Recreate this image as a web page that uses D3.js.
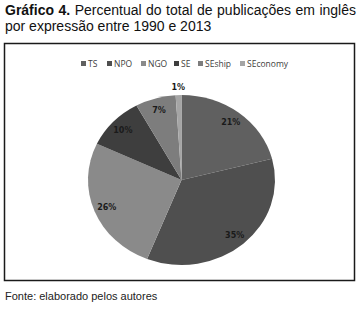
<!DOCTYPE html>
<html><head><meta charset="utf-8">
<script src="https://cdn.jsdelivr.net/npm/d3@7"></script>
<style>body{margin:0;background:#fff}svg{display:block}</style>
</head><body>
<script>
const categories = ["TS","NPO","NGO","SE","SEship","SEconomy"];
const values = [21,35,26,10,7,1];
const colors = ["#606060","#4f4f4f","#8a8a8a","#3e3e3e","#7d7d7d","#a5a5a5"];
const titleBold = "Gráfico 4.";
const titleRest1 = " Percentual do total de publicações em inglês";
const titleLine2 = "por expressão entre 1990 e 2013";
const source = "Fonte: elaborado pelos autores";

const W=363,H=309;
const svg=d3.select("body").append("svg").attr("width",W).attr("height",H);

// title
const t1=svg.append("text").attr("x",5).attr("y",15)
  .attr("font-family","Liberation Sans, Arial, sans-serif").attr("font-size",14).attr("fill","#111");
t1.append("tspan").attr("font-weight","bold").text(titleBold);
t1.append("tspan").text(titleRest1);
const natural=t1.node().getComputedTextLength();
const spaces=(titleBold+titleRest1).split(" ").length-1;
const extra=(351-natural)/spaces;
if(extra>0) t1.attr("word-spacing",extra);
svg.append("text").attr("x",5).attr("y",31)
  .attr("font-family","Liberation Sans, Arial, sans-serif").attr("font-size",14).attr("fill","#111")
  .text(titleLine2);

// frame
svg.append("rect").attr("x",4.5).attr("y",43.5).attr("width",350).attr("height",237)
  .attr("fill","#fff").attr("stroke","#1a1a1a").attr("stroke-width",1.5);

// legend
const legX=[81,107,141,174,198,240];
const lg=svg.append("g").attr("font-family","Open Sans, Lato, sans-serif").attr("font-size",8.5).attr("fill","#404040");
categories.forEach((c,i)=>{
  lg.append("rect").attr("x",legX[i]).attr("y",61).attr("width",5).attr("height",5).attr("fill",colors[i]);
  lg.append("text").attr("x",legX[i]+7).attr("y",66.8).text(c);
});

// pie
const cx=181.5, cy=180, r=85, sx=1.1;
const pie=d3.pie().sort(null).value(d=>d)(values);
const arc=d3.arc().innerRadius(0).outerRadius(r);
const g=svg.append("g").attr("transform",`translate(${cx},${cy}) scale(${sx},1)`);
g.selectAll("path").data(pie).join("path").attr("d",arc).attr("fill",(d,i)=>colors[i]);

const labArc=d3.arc().innerRadius(r*0.86).outerRadius(r*0.86);
const outArc=d3.arc().innerRadius(r*1.09).outerRadius(r*1.09);
const lab=svg.append("g").attr("font-family","DejaVu Sans, sans-serif").attr("font-size",8)
  .attr("font-weight","bold").attr("fill","#1a1a1a").attr("text-anchor","middle");
pie.forEach((d,i)=>{
  const p=(values[i]<3?outArc:labArc).centroid(d);
  lab.append("text").attr("x",cx+p[0]*sx).attr("y",cy+p[1]+3).text(values[i]+"%");
});

// source
svg.append("text").attr("x",5).attr("y",300)
  .attr("font-family","Liberation Sans, Arial, sans-serif").attr("font-size",11).attr("fill","#222")
  .text(source);
</script>
</body></html>
